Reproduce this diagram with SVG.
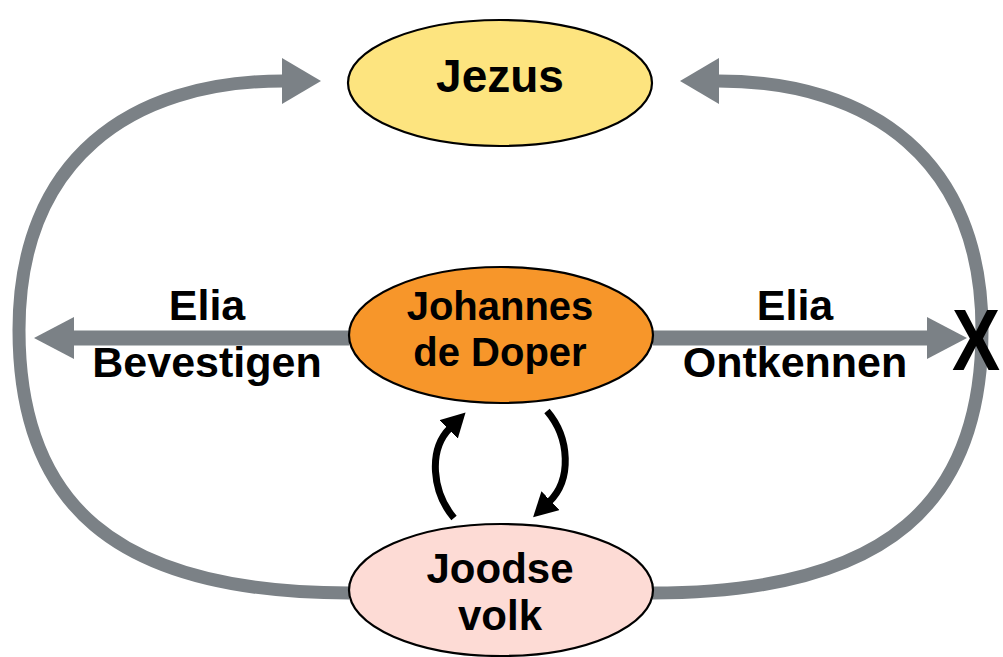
<svg xmlns="http://www.w3.org/2000/svg" width="1003" height="657" viewBox="0 0 1003 657">
<defs>
<style>
.loop{fill:none;stroke:#7b8186;stroke-width:13}
.hz{fill:none;stroke:#7b8186;stroke-width:15}
.blk{fill:none;stroke:#000;stroke-width:7}
.node{stroke:#000;stroke-width:2.2}
.t{font-family:"Liberation Sans",Arial,sans-serif;font-weight:bold;fill:#000;text-anchor:middle}
</style>
<marker id="loopHead" viewBox="0 0 40 46" markerWidth="40" markerHeight="46" refX="1" refY="23" orient="auto" markerUnits="userSpaceOnUse">
<path d="M0,0 L39,23 L0,46 Z" fill="#7b8186"/>
</marker>
<marker id="hzHead" viewBox="0 0 41 42" markerWidth="41" markerHeight="42" refX="1" refY="21" orient="auto" markerUnits="userSpaceOnUse">
<path d="M0,0 L40,21 L0,42 Z" fill="#7b8186"/>
</marker>
<marker id="blkHead" viewBox="0 0 24 26" markerWidth="24" markerHeight="26" refX="2" refY="13" orient="auto" markerUnits="userSpaceOnUse">
<path d="M0,0 L24,13 L0,26 Z" fill="#000"/>
</marker>
</defs>
<g id="connectors">
<path class="loop" d="M349,593 C110,593 19,500 19,330 C19,160 130,81 283,81" marker-end="url(#loopHead)"/>
<path class="loop" d="M652,593 C891,593 982,500 982,330 C982,160 871,81 718,81" marker-end="url(#loopHead)"/>
<path class="hz" d="M349,338 L73,338" marker-end="url(#hzHead)"/>
<path class="hz" d="M653,338 L928,338" marker-end="url(#hzHead)"/>
<path class="blk" d="M454,518 C432,492 428,450 450,428" marker-end="url(#blkHead)"/>
<path class="blk" d="M547,411 C570,438 572,480 549,502" marker-end="url(#blkHead)"/>
</g>
<g id="label-left">
<text class="t" x="207" y="320" font-size="43">Elia</text>
<text class="t" x="207" y="377" font-size="43">Bevestigen</text>
</g>
<g id="label-right">
<text class="t" x="795" y="320" font-size="43">Elia</text>
<text class="t" x="795" y="377" font-size="43">Ontkennen</text>
</g>
<g id="label-x">
<text transform="translate(952,370) scale(0.82,1)" font-size="88" font-family="Liberation Sans,Arial,sans-serif" font-weight="bold" fill="#000">X</text>
</g>
<g id="node-jezus">
<ellipse class="node" cx="500" cy="83" rx="152" ry="63" fill="#fde47f"/>
<text class="t" x="500" y="92" font-size="46">Jezus</text>
</g>
<g id="node-johannes">
<ellipse class="node" cx="501" cy="335" rx="152" ry="68" fill="#f7962a"/>
<text class="t" x="500" y="320" font-size="40">Johannes</text>
<text class="t" x="500" y="366" font-size="40">de Doper</text>
</g>
<g id="node-joodse">
<ellipse class="node" cx="501" cy="590" rx="152" ry="66" fill="#fddbd5"/>
<text class="t" x="500" y="583" font-size="42">Joodse</text>
<text class="t" x="500" y="630" font-size="42">volk</text>
</g>
</svg>
